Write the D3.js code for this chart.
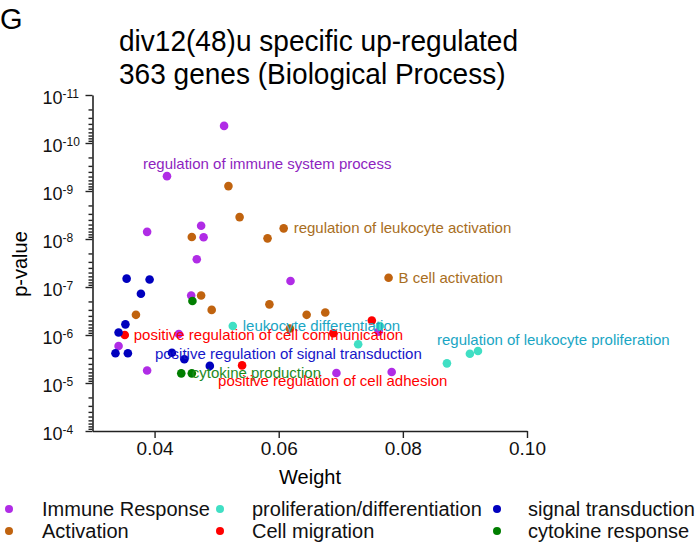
<!DOCTYPE html>
<html>
<head>
<meta charset="utf-8">
<script src="https://cdn.jsdelivr.net/npm/d3@7"></script>
<style>
  body { margin: 0; background: #fff; }
  svg { display: block; font-family: Arial, "Liberation Sans", sans-serif; }
</style>
</head>
<body>
<svg width="699" height="544"></svg>
<script>
  // [weight, p-value] per GO category
  const immuneResponse = [
    [0.0512, 4.4e-11], [0.0420, 4.9e-10], [0.0475, 5.3e-9], [0.0388, 7.1e-9],
    [0.0479, 9.2e-9], [0.0468, 2.65e-8], [0.0619, 7.5e-8], [0.0459, 1.5e-7],
    [0.0439, 9.5e-7], [0.0342, 1.7e-6], [0.0388, 5.5e-6], [0.0693, 6.2e-6],
    [0.0782, 5.9e-6], [0.0761, 8.5e-7]
  ];
  const activation = [
    [0.0519, 7.9e-10], [0.0537, 3.5e-9], [0.0460, 9.1e-9], [0.0582, 9.7e-9],
    [0.0608, 6.0e-9], [0.0777, 6.4e-8], [0.0475, 1.5e-7], [0.0492, 3.0e-7],
    [0.0370, 3.8e-7], [0.0585, 2.3e-7], [0.0645, 3.8e-7], [0.0675, 3.4e-7],
    [0.0618, 7.3e-7]
  ];
  const proliferation = [
    [0.0526, 6.5e-7], [0.0728, 1.56e-6], [0.0908, 2.45e-6], [0.0921, 2.15e-6],
    [0.0871, 3.9e-6], [0.0763, 6.5e-7]
  ];
  const signalTransduction = [
    [0.0355, 6.7e-8], [0.0392, 7.0e-8], [0.0378, 1.38e-7], [0.0353, 6.0e-7],
    [0.0342, 8.9e-7], [0.0337, 2.4e-6], [0.0357, 2.4e-6], [0.0428, 2.34e-6],
    [0.0448, 3.2e-6], [0.0489, 4.4e-6]
  ];
  const cellMigration = [
    [0.0352, 1.0e-6], [0.0541, 4.3e-6], [0.0688, 9.2e-7], [0.0750, 5.0e-7]
  ];
  const cytokineResponse = [
    [0.0461, 1.96e-7], [0.0443, 6.3e-6], [0.0460, 6.3e-6]
  ];

  const categories = ['Immune Response', 'Activation', 'proliferation/differentiation',
    'Cell migration', 'signal transduction', 'cytokine response'];
  const seriesData = [immuneResponse, activation, proliferation,
    cellMigration, signalTransduction, cytokineResponse];
  const dotColors = ['#B02CE6', '#C0630F', '#40DFC4', '#FF0000', '#0000BE', '#007E00'];
  const labelColors = ['#8E1FC0', '#A86E1E', '#1AA6C4', '#FF0000', '#1616C8', '#1E8A1E'];

  const weightTicks = [0.04, 0.06, 0.08, 0.10];
  const pExponents = [-11, -10, -9, -8, -7, -6, -5, -4];

  // annotated terms: category index, point index
  const termLabels = [
    { text: 'regulation of immune system process', cat: 0, at: 1 },
    { text: 'regulation of leukocyte activation', cat: 1, at: 4 },
    { text: 'B cell activation', cat: 1, at: 5 },
    { text: 'leukocyte differentiation', cat: 2, at: 0 },
    { text: 'positive regulation of cell communication', cat: 3, at: 0 },
    { text: 'positive regulation of signal transduction', cat: 4, at: 7 },
    { text: 'regulation of leukocyte proliferation', cat: 2, at: 3 },
    { text: 'cytokine production', cat: 5, at: 2 },
    { text: 'positive regulation of cell adhesion', cat: 3, at: 1 }
  ];
  const labelOffsets = [[-24, -7], [10, 5], [10, 5], [10, 5], [9, 5], [-17, 6], [-41, -6], [0, 5], [-24, 21]];

  const svg = d3.select('svg');

  const x = d3.scaleLinear().domain([0.03, 0.10]).range([92.5, 527]);
  const y = d3.scaleLog().domain([1e-11, 1e-4]).range([95, 431]);

  // title
  svg.append('text').attr('x', 0).attr('y', 29).attr('font-size', 29).text('G');
  svg.append('text').attr('transform', 'translate(119,51) scale(0.935,1)').attr('font-size', 30)
    .text('div12(48)u specific up-regulated');
  svg.append('text').attr('transform', 'translate(119,84) scale(0.935,1)').attr('font-size', 30)
    .text('363 genes (Biological Process)');

  // x axis
  const xAxis = svg.append('g')
    .attr('transform', 'translate(0,431)')
    .call(d3.axisBottom(x).tickValues(weightTicks).tickFormat(d3.format('.2f'))
      .tickSize(7).tickSizeOuter(0).tickPadding(4));
  xAxis.selectAll('text').attr('font-size', 19).attr('fill', '#111')
    .attr('font-family', 'Arial, "Liberation Sans", sans-serif');

  // y axis: minor ticks
  const minor = [];
  pExponents.slice(0, -1).forEach(e => {
    for (let k = 2; k <= 9; k++) minor.push(k * Math.pow(10, e));
  });
  svg.append('g')
    .attr('transform', 'translate(92.5,0)')
    .call(d3.axisLeft(y).tickValues(minor).tickFormat('').tickSize(4).tickSizeOuter(0))
    .select('.domain').remove();

  const yAxis = svg.append('g')
    .attr('transform', 'translate(92.5,0)')
    .call(d3.axisLeft(y).tickValues(pExponents.map(e => Math.pow(10, e)))
      .tickFormat('').tickSize(7).tickSizeOuter(0));
  const yLab = yAxis.selectAll('.tick').append('text')
    .attr('fill', '#111').attr('text-anchor', 'start')
    .attr('font-family', 'Arial, "Liberation Sans", sans-serif')
    .attr('x', -50).attr('y', 8).attr('font-size', 18);
  yLab.append('tspan').text('10');
  yLab.append('tspan').attr('font-size', 12).attr('dy', -6)
    .text(d => '-' + Math.round(-Math.log10(d)));

  svg.selectAll('.domain').attr('stroke', '#222').attr('stroke-width', 1.6);
  svg.selectAll('.tick line').attr('stroke', '#222').attr('stroke-width', 1.4);

  // axis titles
  svg.append('text').attr('x', 310).attr('y', 484).attr('text-anchor', 'middle')
    .attr('font-size', 20).text('Weight');
  svg.append('text').attr('transform', 'translate(27,264) rotate(-90)')
    .attr('text-anchor', 'middle').attr('font-size', 20).text('p-value');

  // points
  seriesData.forEach((pts, i) => {
    svg.append('g').selectAll('circle')
      .data(pts).enter().append('circle')
        .attr('cx', d => x(d[0]))
        .attr('cy', d => y(d[1]))
        .attr('r', 4.3)
        .attr('fill', dotColors[i]);
  });

  // term labels
  svg.append('g').selectAll('text')
    .data(termLabels).enter().append('text')
      .attr('x', (d, i) => x(seriesData[d.cat][d.at][0]) + labelOffsets[i][0])
      .attr('y', (d, i) => y(seriesData[d.cat][d.at][1]) + labelOffsets[i][1])
      .attr('font-size', 15)
      .attr('fill', d => labelColors[d.cat])
      .text(d => d.text);

  // legend, column-major 3 x 2
  const legendCols = [[9, 42], [220, 252], [497, 528]];
  const legendRows = [509, 531];
  const legend = svg.append('g').selectAll('g')
    .data(categories).enter().append('g');
  legend.append('circle')
    .attr('cx', (d, i) => legendCols[Math.floor(i / 2)][0])
    .attr('cy', (d, i) => legendRows[i % 2])
    .attr('r', 4)
    .attr('fill', (d, i) => dotColors[i]);
  legend.append('text')
    .attr('x', (d, i) => legendCols[Math.floor(i / 2)][1])
    .attr('y', (d, i) => legendRows[i % 2] + 7)
    .attr('font-size', 20)
    .attr('fill', '#111')
    .text(d => d);
</script>
</body>
</html>
